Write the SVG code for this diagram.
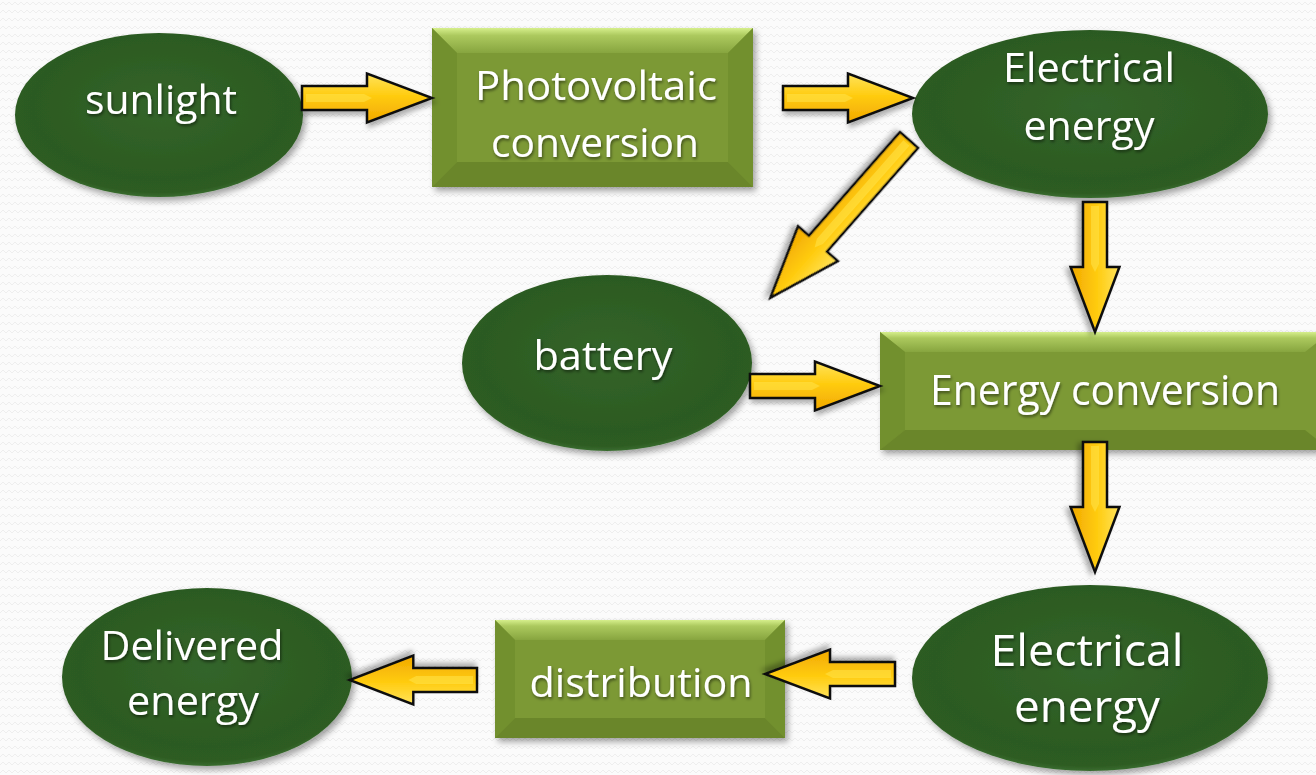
<svg xmlns="http://www.w3.org/2000/svg" width="1316" height="775" viewBox="0 0 1316 775">
<style>
.lbl{font-family:"Open Sans","Liberation Sans",sans-serif;fill:#ffffff;text-anchor:middle;filter:url(#tsh)}
.ell{fill:url(#eg);filter:url(#sh)}
.base{fill:#7b9936}
.arrow{fill:url(#ag);stroke:#111;stroke-width:2.5;stroke-linejoin:miter;filter:url(#ash)}
.hl{fill:#ffe34d;opacity:0.55}
</style>
<defs>
<pattern id="bgp" width="12" height="8" patternUnits="userSpaceOnUse">
<rect width="12" height="8" fill="#fbfbfb"/>
<path d="M0,5 L3,2 L6,5 L9,2 L12,5" fill="none" stroke="#eeeeee" stroke-width="1"/>
</pattern>
<radialGradient id="eg" cx="0.5" cy="0.45" r="0.55">
<stop offset="0" stop-color="#33652a"/>
<stop offset="0.8" stop-color="#2c5a21"/>
<stop offset="0.95" stop-color="#2d5c22"/>
<stop offset="1" stop-color="#3a6c30"/>
</radialGradient>
<linearGradient id="topb" x1="0" y1="0" x2="0" y2="1">
<stop offset="0" stop-color="#d6ef8c"/>
<stop offset="0.3" stop-color="#acc95e"/>
<stop offset="1" stop-color="#87a53f"/>
</linearGradient>
<linearGradient id="ag" x1="0" y1="0" x2="0" y2="1">
<stop offset="0" stop-color="#ffe35a"/>
<stop offset="0.45" stop-color="#ffcc10"/>
<stop offset="1" stop-color="#f2a800"/>
</linearGradient>
<filter id="sh" x="-10%" y="-10%" width="130%" height="130%">
<feDropShadow dx="3" dy="4" stdDeviation="3" flood-color="#000" flood-opacity="0.35"/>
</filter>
<filter id="ash" x="-20%" y="-20%" width="140%" height="160%">
<feDropShadow dx="2" dy="4" stdDeviation="2.5" flood-color="#000" flood-opacity="0.3"/>
</filter>
<filter id="tsh" x="-10%" y="-20%" width="120%" height="140%">
<feDropShadow dx="1" dy="2" stdDeviation="1.5" flood-color="#000" flood-opacity="0.5"/>
</filter>
<path id="arr" d="M0,-12 H65 V-24.5 L130,0 L65,24.5 V12 H0 Z"/>
</defs>
<rect width="1316" height="775" fill="url(#bgp)"/>

<g id="sunlight">
<ellipse class="ell" cx="159" cy="115" rx="144" ry="82"/>
<text class="lbl" x="161" y="114" font-size="40" textLength="152" lengthAdjust="spacingAndGlyphs">sunlight</text>
</g>

<g id="photovoltaic">
<g filter="url(#sh)"><rect class="base" x="432" y="28" width="321" height="159"/></g>
<polygon points="432,28 753,28 728,53 457,53" fill="url(#topb)"/>
<polygon points="432,28 457,53 457,162 432,187" fill="#6f8d2d" opacity="0.8"/>
<polygon points="753,28 728,53 728,162 753,187" fill="#6f8d2d" opacity="0.8"/>
<polygon points="432,187 457,162 728,162 753,187" fill="#6a862a"/>
<text class="lbl" x="596" y="100" font-size="41" textLength="242" lengthAdjust="spacingAndGlyphs">Photovoltaic</text>
<text class="lbl" x="595" y="157" font-size="41" textLength="208" lengthAdjust="spacingAndGlyphs">conversion</text>
</g>

<g id="electrical-energy-top">
<ellipse class="ell" cx="1090" cy="114" rx="178" ry="84"/>
<text class="lbl" x="1089" y="82" font-size="41" textLength="172" lengthAdjust="spacingAndGlyphs">Electrical</text>
<text class="lbl" x="1089" y="140" font-size="41" textLength="131" lengthAdjust="spacingAndGlyphs">energy</text>
</g>

<g id="battery">
<ellipse class="ell" cx="607" cy="363" rx="145" ry="88"/>
<text class="lbl" x="603" y="370" font-size="40" textLength="139" lengthAdjust="spacingAndGlyphs">battery</text>
</g>

<g id="energy-conversion">
<g filter="url(#sh)"><rect class="base" x="880" y="332" width="450" height="118"/></g>
<polygon points="880,332 1330,332 1305,352 905,352" fill="url(#topb)"/>
<polygon points="880,332 905,352 905,430 880,450" fill="#6f8d2d" opacity="0.8"/>
<polygon points="880,450 905,430 1305,430 1330,450" fill="#6a862a"/>
<text class="lbl" x="1105" y="405" font-size="42" textLength="350" lengthAdjust="spacingAndGlyphs">Energy conversion</text>
</g>

<g id="electrical-energy-bottom">
<ellipse class="ell" cx="1090" cy="678" rx="178" ry="93"/>
<text class="lbl" x="1087" y="666" font-size="44" textLength="193" lengthAdjust="spacingAndGlyphs">Electrical</text>
<text class="lbl" x="1087" y="722" font-size="44" textLength="146" lengthAdjust="spacingAndGlyphs">energy</text>
</g>

<g id="distribution">
<g filter="url(#sh)"><rect class="base" x="495" y="620" width="290" height="118"/></g>
<polygon points="495,620 785,620 765,640 515,640" fill="url(#topb)"/>
<polygon points="495,620 515,640 515,718 495,738" fill="#6f8d2d" opacity="0.8"/>
<polygon points="785,620 765,640 765,718 785,738" fill="#6f8d2d" opacity="0.8"/>
<polygon points="495,738 515,718 765,718 785,738" fill="#6a862a"/>
<text class="lbl" x="641" y="697" font-size="41" textLength="223" lengthAdjust="spacingAndGlyphs">distribution</text>
</g>

<g id="delivered-energy">
<ellipse class="ell" cx="207" cy="677" rx="145" ry="89"/>
<text class="lbl" x="192" y="660" font-size="41" textLength="183" lengthAdjust="spacingAndGlyphs">Delivered</text>
<text class="lbl" x="193" y="715" font-size="41" textLength="132" lengthAdjust="spacingAndGlyphs">energy</text>
</g>

<g id="connectors">
<g transform="translate(302,98)"><use href="#arr" class="arrow"/><path class="hl" d="M4,-4 H62 L70,0 L62,4 H4 Z"/></g>
<g transform="translate(783,98)"><use href="#arr" class="arrow"/><path class="hl" d="M4,-4 H62 L70,0 L62,4 H4 Z"/></g>
<g transform="translate(750,386)"><use href="#arr" class="arrow"/><path class="hl" d="M4,-4 H62 L70,0 L62,4 H4 Z"/></g>
<g transform="translate(1095,202) rotate(90)"><use href="#arr" class="arrow"/><path class="hl" d="M4,-4 H62 L70,0 L62,4 H4 Z"/></g>
<g transform="translate(1095,442) rotate(90)"><use href="#arr" class="arrow"/><path class="hl" d="M4,-4 H62 L70,0 L62,4 H4 Z"/></g>
<g transform="translate(895,674) rotate(180)"><use href="#arr" class="arrow"/><path class="hl" d="M4,-4 H62 L70,0 L62,4 H4 Z"/></g>
<g transform="translate(477,680) rotate(180) scale(0.98,1)"><use href="#arr" class="arrow"/><path class="hl" d="M4,-4 H62 L70,0 L62,4 H4 Z"/></g>
<g transform="translate(909,140) rotate(131.3)"><path class="arrow" d="M0,-12 H138 V-26.5 L210,0 L138,26.5 V12 H0 Z"/><path class="hl" d="M4,-4 H135 L143,0 L135,4 H4 Z"/></g>
</g>
</svg>
